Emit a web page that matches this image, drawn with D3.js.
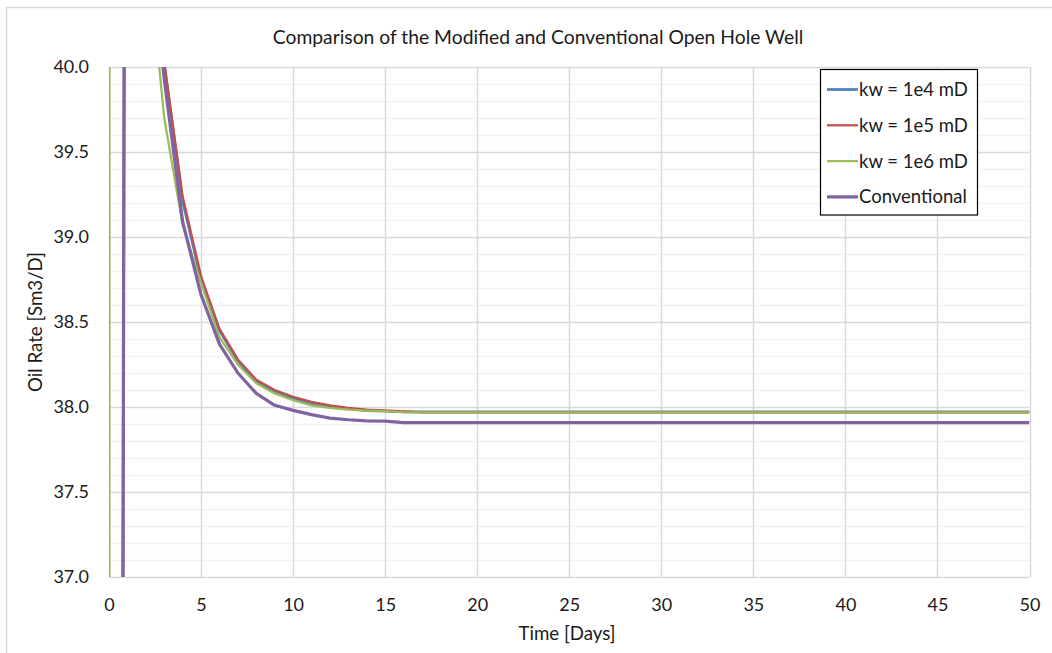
<!DOCTYPE html>
<html>
<head>
<meta charset="utf-8">
<script src="https://cdn.jsdelivr.net/npm/d3@7"></script>
<style>
  html, body { margin: 0; padding: 0; background: #ffffff; }
  svg { display: block; }
  text { font-family: Lato, "Open Sans", sans-serif; fill: #1a1a1a; }
</style>
</head>
<body>
<svg id="chart" width="1052" height="653"></svg>
<script>
// Simulation time steps (days)
const days = [0, 1, 2, 3, 4, 5, 6, 7, 8, 9, 10, 11, 12, 13, 14, 15, 16, 17, 18, 19, 20,
  21, 22, 23, 24, 25, 26, 27, 28, 29, 30, 31, 32, 33, 34, 35, 36, 37, 38, 39, 40,
  41, 42, 43, 44, 45, 46, 47, 48, 49, 50];

// Oil rate [Sm3/D] per case
const rateKw1e4 = [0, 48.7, 41.0, 40.02, 39.21, 38.75, 38.45, 38.27, 38.15, 38.09, 38.05,
  38.02, 38.0, 37.99, 37.978, 37.975, 37.972, 37.972, 37.972, 37.972, 37.972,
  37.972, 37.972, 37.972, 37.972, 37.972, 37.972, 37.972, 37.972, 37.972, 37.972,
  37.972, 37.972, 37.972, 37.972, 37.972, 37.972, 37.972, 37.972, 37.972, 37.972,
  37.972, 37.972, 37.972, 37.972, 37.972, 37.972, 37.972, 37.972, 37.972, 37.972];
const rateKw1e5 = [0, 48.7, 41.1, 40.03, 39.24, 38.77, 38.46, 38.28, 38.16, 38.1, 38.06,
  38.03, 38.01, 37.995, 37.985, 37.98, 37.975, 37.968, 37.968, 37.968, 37.968,
  37.968, 37.968, 37.968, 37.968, 37.968, 37.968, 37.968, 37.968, 37.968, 37.968,
  37.968, 37.968, 37.968, 37.968, 37.968, 37.968, 37.968, 37.968, 37.968, 37.968,
  37.968, 37.968, 37.968, 37.968, 37.968, 37.968, 37.968, 37.968, 37.968, 37.968];
const rateKw1e6 = [0, 1500, 40.8, 39.7, 39.07, 38.73, 38.41, 38.25, 38.14, 38.08, 38.04,
  38.01, 37.995, 37.985, 37.978, 37.976, 37.97, 37.968, 37.968, 37.968, 37.968,
  37.968, 37.968, 37.968, 37.968, 37.968, 37.968, 37.968, 37.968, 37.968, 37.968,
  37.968, 37.968, 37.968, 37.968, 37.968, 37.968, 37.968, 37.968, 37.968, 37.968,
  37.968, 37.968, 37.968, 37.968, 37.968, 37.968, 37.968, 37.968, 37.968, 37.968];
const rateConventional = [0, 48.7, 40.95, 39.93, 39.09, 38.66, 38.37, 38.2, 38.08, 38.01, 37.98,
  37.955, 37.935, 37.925, 37.918, 37.917, 37.908, 37.908, 37.908, 37.908, 37.908,
  37.908, 37.908, 37.908, 37.908, 37.908, 37.908, 37.908, 37.908, 37.908, 37.908,
  37.908, 37.908, 37.908, 37.908, 37.908, 37.908, 37.908, 37.908, 37.908, 37.908,
  37.908, 37.908, 37.908, 37.908, 37.908, 37.908, 37.908, 37.908, 37.908, 37.908];

const seriesNames = ["kw = 1e4 mD", "kw = 1e5 mD", "kw = 1e6 mD", "Conventional"];
const seriesColors = ["#4f81bd", "#c0504d", "#9bbb59", "#8064a2"];
const seriesWidths = [2.75, 2.25, 2.25, 3.25];
const seriesValues = [rateKw1e4, rateKw1e5, rateKw1e6, rateConventional];

const xTicks = [0, 5, 10, 15, 20, 25, 30, 35, 40, 45, 50];
const yTicks = [37.0, 37.5, 38.0, 38.5, 39.0, 39.5, 40.0];
const yMinorTicks = [37.1, 37.2, 37.3, 37.4, 37.6, 37.7, 37.8, 37.9, 38.1, 38.2, 38.3, 38.4,
  38.6, 38.7, 38.8, 38.9, 39.1, 39.2, 39.3, 39.4, 39.6, 39.7, 39.8, 39.9];

const titleText = "Comparison of the Modified and Conventional Open Hole Well";
const xTitle = "Time [Days]";
const yTitle = "Oil Rate [Sm3/D]";

const svg = d3.select("#chart");
const plot = { left: 109, right: 1029.5, top: 67, bottom: 577 };

// Outer chart frame
svg.append("rect")
  .attr("x", 6.5).attr("y", 7.5).attr("width", 1100).attr("height", 700)
  .attr("fill", "#ffffff").attr("stroke", "#d9d9d9").attr("stroke-width", 1.5);

const x = d3.scaleLinear().domain([0, 50]).range([plot.left, plot.right]);
const y = d3.scaleLinear().domain([37, 40]).range([plot.bottom, plot.top]);

// Gridlines
const grid = svg.append("g");
grid.selectAll("line.minor").data(yMinorTicks).join("line")
  .attr("class", "minor")
  .attr("x1", plot.left).attr("x2", plot.right)
  .attr("y1", d => Math.round(y(d)) + 0.5).attr("y2", d => Math.round(y(d)) + 0.5)
  .attr("stroke", "#f2f2f2").attr("stroke-width", 1.5);
grid.selectAll("line.hmajor").data(yTicks).join("line")
  .attr("class", "hmajor")
  .attr("x1", plot.left).attr("x2", plot.right)
  .attr("y1", d => Math.round(y(d)) + 0.5).attr("y2", d => Math.round(y(d)) + 0.5)
  .attr("stroke", "#d9d9d9").attr("stroke-width", 1.5);
grid.selectAll("line.vmajor").data(xTicks).join("line")
  .attr("class", "vmajor")
  .attr("x1", d => Math.round(x(d)) + 0.5).attr("x2", d => Math.round(x(d)) + 0.5)
  .attr("y1", plot.top).attr("y2", plot.bottom)
  .attr("stroke", "#d9d9d9").attr("stroke-width", 1.5);

// Axes (labels only; lines come from the grid)
const xAxis = svg.append("g")
  .attr("transform", `translate(0,${plot.bottom})`)
  .call(d3.axisBottom(x).tickValues(xTicks).tickSize(0).tickPadding(21).tickFormat(d3.format("d")));
xAxis.select(".domain").remove();
xAxis.selectAll("text").attr("font-size", 18).attr("font-family", "Lato").attr("fill", "#1a1a1a");

const yAxis = svg.append("g")
  .attr("transform", `translate(${plot.left},0)`)
  .call(d3.axisLeft(y).tickValues(yTicks).tickSize(0).tickPadding(20).tickFormat(d3.format(".1f")));
yAxis.select(".domain").remove();
yAxis.selectAll("text").attr("font-size", 18).attr("font-family", "Lato").attr("fill", "#1a1a1a");

// Series lines, clipped to the plot area
svg.append("clipPath").attr("id", "plotClip")
  .append("rect")
  .attr("x", plot.left).attr("y", plot.top)
  .attr("width", plot.right - plot.left).attr("height", plot.bottom - plot.top);

const line = d3.line().x(d => x(d[0])).y(d => y(d[1]));
const linesG = svg.append("g").attr("clip-path", "url(#plotClip)");
seriesValues.forEach((vals, i) => {
  linesG.append("path")
    .datum(days.map((t, k) => [t, vals[k]]))
    .attr("d", line)
    .attr("fill", "none")
    .attr("stroke", seriesColors[i])
    .attr("stroke-width", seriesWidths[i])
    .attr("stroke-linejoin", "round");
});

// Title and axis titles
svg.append("text")
  .attr("x", 538).attr("y", 44)
  .attr("text-anchor", "middle").attr("font-size", 19.3)
  .text(titleText);

svg.append("text")
  .attr("x", 567).attr("y", 640)
  .attr("text-anchor", "middle").attr("font-size", 18.7)
  .text(xTitle);

svg.append("text")
  .attr("transform", `translate(42,${(plot.top + plot.bottom) / 2}) rotate(-90)`)
  .attr("text-anchor", "middle").attr("font-size", 18.7)
  .text(yTitle);

// Legend
const legend = svg.append("g");
legend.append("rect")
  .attr("x", 820.5).attr("y", 69.5).attr("width", 157).attr("height", 145.5)
  .attr("fill", "#ffffff").attr("stroke", "#000000").attr("stroke-width", 1.2);
const legendRows = legend.selectAll("g.row").data(seriesNames).join("g")
  .attr("class", "row")
  .attr("transform", (d, i) => `translate(0,${89.5 + i * 35.8})`);
legendRows.append("line")
  .attr("x1", 827).attr("x2", 858).attr("y1", 0).attr("y2", 0)
  .attr("stroke", (d, i) => seriesColors[i])
  .attr("stroke-width", (d, i) => seriesWidths[i]);
legendRows.append("text")
  .attr("x", 859).attr("y", 6.5)
  .attr("font-size", 18.5)
  .text(d => d);
</script>
</body>
</html>
